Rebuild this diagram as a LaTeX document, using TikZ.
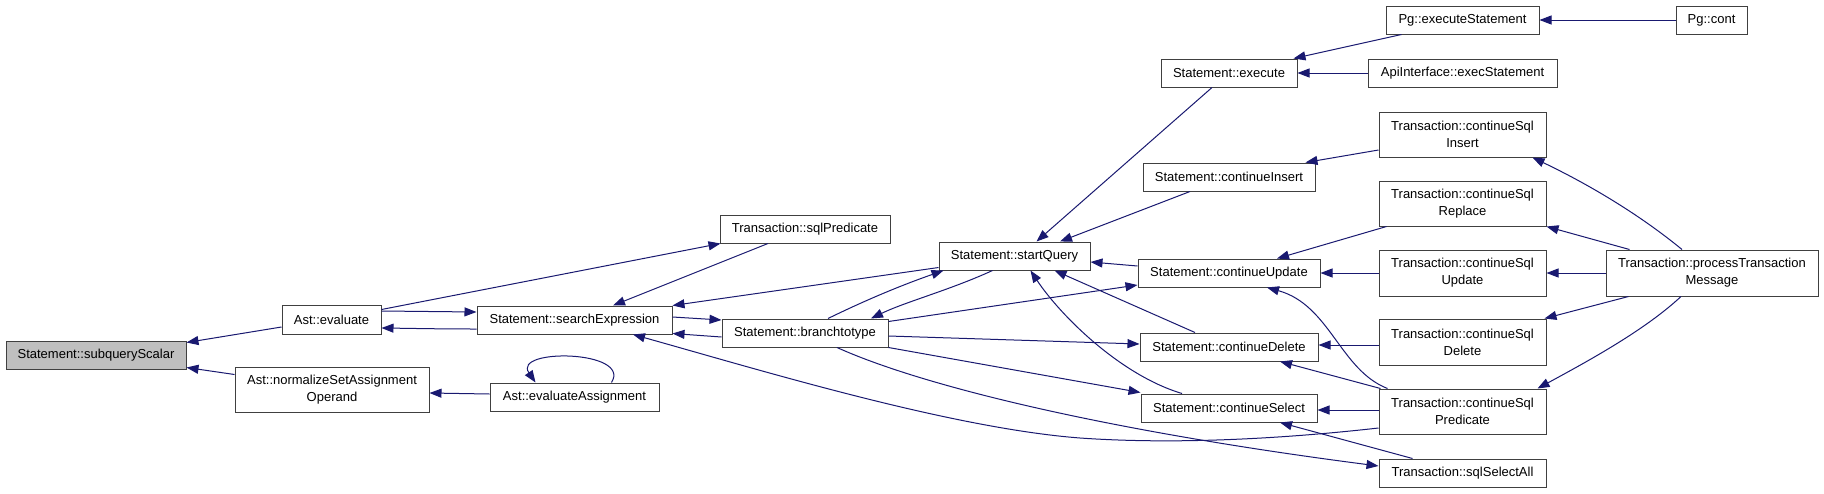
\documentclass[tikz,border=0pt]{standalone}
\usepackage{fontspec}
\setmainfont{Liberation Sans}
\usetikzlibrary{arrows.meta,calc}
\definecolor{edgeblue}{HTML}{191970}
\definecolor{boxgray}{HTML}{BFBFBF}
\definecolor{boxline}{HTML}{404040}
\begin{document}
\begin{tikzpicture}[x=1pt,y=-1pt,
  fn/.style={draw=boxline, line width=1pt, fill=white, inner sep=0pt, align=center,
    font=\fontsize{13}{17}\selectfont, minimum height=28pt},
  fntwo/.style={fn, minimum height=45pt},
  call/.style={draw=edgeblue, line width=1pt, -{Triangle[length=12pt,width=9pt]}, shorten >=0pt}]
\useasboundingbox[fill=white] (0,0) rectangle (1824,493);

% nodes
\node[fn, fill=boxgray, minimum width=180pt] (ss) at (96,355) {Statement::subqueryScalar};
\node[fn, minimum width=99pt, minimum height=29pt] (ev) at (331.5,319.5) {Ast::evaluate};
\node[fn, minimum width=195pt] (se) at (574.5,320) {Statement::searchExpression};
\node[fntwo, minimum width=194pt] (no) at (332,389.5) {Ast::normalizeSetAssignment\\Operand};
\node[fn, minimum width=169pt] (ea) at (574.5,397) {Ast::evaluateAssignment};
\node[fn, minimum width=170pt] (sp) at (805,229) {Transaction::sqlPredicate};
\node[fn, minimum width=166pt] (bt) at (805,333) {Statement::branchtotype};
\node[fn, minimum width=151pt] (sq) at (1014.5,256) {Statement::startQuery};
\node[fn, minimum width=136pt] (ex) at (1229,73) {Statement::execute};
\node[fn, minimum width=172pt] (ci) at (1229,177) {Statement::continueInsert};
\node[fn, minimum width=182pt] (cu) at (1229,273) {Statement::continueUpdate};
\node[fn, minimum width=178pt] (cd) at (1229,347) {Statement::continueDelete};
\node[fn, minimum width=176pt] (cs) at (1229,408) {Statement::continueSelect};
\node[fn, minimum width=153pt] (pe) at (1462.5,20) {Pg::executeStatement};
\node[fn, minimum width=189pt] (ai) at (1462.5,73) {ApiInterface::execStatement};
\node[fntwo, minimum width=167pt] (tI) at (1462.5,134.5) {Transaction::continueSql\\Insert};
\node[fntwo, minimum width=167pt] (tR) at (1462.5,203.5) {Transaction::continueSql\\Replace};
\node[fntwo, minimum width=167pt, minimum height=46pt] (tU) at (1462.5,273) {Transaction::continueSql\\Update};
\node[fntwo, minimum width=167pt, minimum height=46pt] (tD) at (1462.5,342) {Transaction::continueSql\\Delete};
\node[fntwo, minimum width=167pt] (tP) at (1462.5,411.5) {Transaction::continueSql\\Predicate};
\node[fn, minimum width=167pt] (tS) at (1462.5,473) {Transaction::sqlSelectAll};
\node[fn, minimum width=71pt] (pc) at (1711.5,20) {Pg::cont};
\node[fntwo, minimum width=212pt, minimum height=46pt] (pt) at (1712,273) {Transaction::processTransaction\\Message};

% edges (caller -> callee)
\draw[call] ($(ev.west)+(0,7.5)$) -- ($(ss.north east)+(0,2)$);
\draw[call] ($(no.north west)+(0,8)$) -- ($(ss.south east)+(0,-2)$);
\draw[call] ($(ea.west)+(0,-3)$) -- ($(no.east)+(0,3.5)$);
\draw[call] ($(ea.north west)+(122,0)$) .. controls (632,350) and (512,348) .. ($(ea.north west)+(46,0)$);
\draw[call] ($(ev.east)+(0,-8.5)$) -- ($(se.west)+(0,-8)$);
\draw[call] ($(se.west)+(0,9)$) .. controls (440,329) and (420,328.5) .. ($(ev.east)+(0,8.5)$);
\draw[call] ($(ev.north east)+(0,5)$) -- ($(sp.south west)+(1,0)$);
\draw[call] ($(sp.south)+(-37,0)$) -- ($(se.north)+(38.5,0)$);
\draw[call] ($(sq.south west)+(0,-3)$) -- (se.north east);
\draw[call] ($(se.east)+(0,-3)$) -- ($(bt.north west)+(0,1.5)$);
\draw[call] ($(bt.west)+(0,4)$) -- ($(se.south east)+(0,-1)$);
\draw[call] ($(tP.west)+(0,16.5)$) .. controls (1290,438) and (1180,445) .. (1080,438)
   .. controls (950,428) and (760,370) .. ($(se.south)+(58.5,0)$);
\draw[call] ($(bt.south)+(32,0)$) .. controls (920,385) and (1100,430) .. ($(tS.west)+(0,-7)$);
\draw[call] ($(bt.north)+(23,0)$) .. controls (870,298) and (905,284) .. ($(sq.south west)+(5,0)$);
\draw[call] ($(sq.south)+(-22,0)$) .. controls (950,290) and (905,302) .. ($(bt.north)+(66,0)$);
\draw[call] ($(bt.north east)+(0,3)$) -- ($(cu.south west)+(0,-2.5)$);
\draw[call] ($(bt.east)+(0,3)$) -- ($(cd.west)+(0,-3)$);
\draw[call] (bt.south east) -- ($(cs.north west)+(0,-1)$);
\draw[call] ($(ex.south)+(-17,0)$) -- ($(sq.north)+(22,0)$);
\draw[call] ($(ci.south)+(-39,0)$) -- ($(sq.north)+(45.5,0)$);
\draw[call] ($(cu.west)+(0,-7)$) -- ($(sq.east)+(0,6)$);
\draw[call] ($(cd.north)+(-34,0)$) -- ($(sq.south)+(40,0)$);
\draw[call] ($(cs.north)+(-47,0)$) .. controls (1120,375) and (1060,315) .. ($(sq.south)+(16,0)$);
\draw[call] ($(pe.south west)+(16,0)$) -- ($(ex.north east)+(-4,0)$);
\draw[call] (ai.west) -- (ex.east);
\draw[call] (pc.west) -- (pe.east);
\draw[call] ($(tI.west)+(0,15.5)$) -- ($(ci.north east)+(-10,0)$);
\draw[call] ($(tR.south west)+(8,0)$) -- ($(cu.north)+(48,0)$);
\draw[call] (tU.west) -- (cu.east);
\draw[call] ($(tP.north west)+(9,0)$) .. controls (1340,370) and (1330,305) .. ($(cu.south)+(38,0)$);
\draw[call] ($(tD.west)+(0,3)$) -- ($(cd.east)+(0,-2)$);
\draw[call] ($(tP.north west)+(2,0)$) -- ($(cd.south)+(51,0)$);
\draw[call] ($(tP.west)+(0,-1.5)$) -- ($(cs.east)+(0,2)$);
\draw[call] ($(tS.north)+(-50,0)$) -- ($(cs.south)+(51,0)$);
\draw[call] ($(pt.north)+(-30,0)$) .. controls (1640,215) and (1590,185) .. ($(tI.south east)+(-14,0)$);
\draw[call] ($(pt.north west)+(24,0)$) -- (tR.south east);
\draw[call] (pt.west) -- (tU.east);
\draw[call] ($(pt.south west)+(23,0)$) -- ($(tD.north east)+(-2,0)$);
\draw[call] ($(pt.south)+(-31,0)$) .. controls (1645,330) and (1590,360) .. ($(tP.north east)+(-9,0)$);
\end{tikzpicture}
\end{document}
